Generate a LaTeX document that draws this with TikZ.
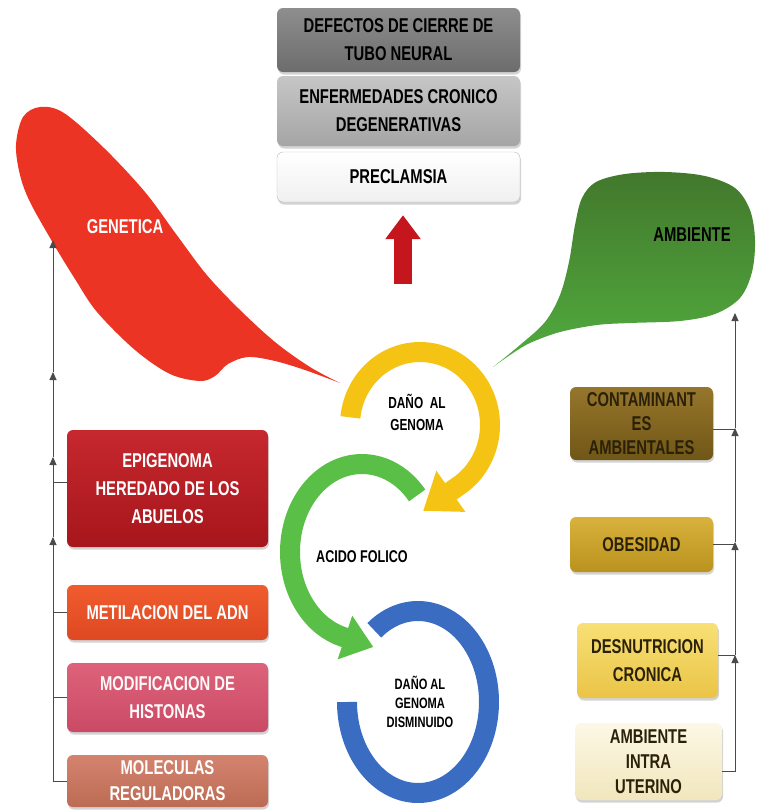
\documentclass[tikz,border=0pt]{standalone}
\usepackage{fontspec}
\newfontfamily\narrowfont[FakeStretch=0.74]{Liberation Sans}
\usetikzlibrary{arrows.meta,shadows}
\definecolor{genred}{HTML}{EC3424}
\definecolor{ambgreen}{HTML}{4E8D34}
\definecolor{ringyellow}{HTML}{F5C314}
\definecolor{ringgreen}{HTML}{5ABF46}
\definecolor{ringblue}{HTML}{3A6DC2}
\definecolor{arrowred}{HTML}{C5161D}
\definecolor{linkgray}{HTML}{4A4A4A}
\definecolor{ambtext}{HTML}{2A2108}
\tikzset{
  boxfont/.style={font=\narrowfont\bfseries\fontsize{20}{28}\selectfont},
  boxnode/.style={boxfont, rounded corners=6pt, inner sep=0pt, align=center, drop shadow={opacity=0.35, shadow xshift=1pt, shadow yshift=-2.5pt}},
  graynode/.style={boxnode, minimum width=243pt, text=black},
  gennode/.style={boxnode, minimum width=201pt, text=white},
  ambnode/.style={boxnode, text=ambtext},
  ringtext/.style={align=center, inner sep=1pt, font=\narrowfont\bfseries\fontsize{16}{22}\selectfont},
  blobtext/.style={inner sep=1pt, boxfont},
  ring/.style={line width=20pt},
  link/.style={linkgray, line width=1pt, -{Triangle[length=8pt,width=7pt]}},
  stub/.style={linkgray, line width=1pt},
  bigarrow/.style={arrowred, line width=18pt, -{Triangle[length=24pt,width=34pt]}}
}

\begin{document}
\begin{tikzpicture}[x=1pt,y=-1pt]
  \useasboundingbox (0,0) rectangle (756,812);

  % globos
  \fill[genred] plot[smooth, tension=0.55] coordinates {(340,383) (310,367) (275,342) (238,308) (206,274) (176,234) (145,192) (104,148) (64,113) (40,107) (23,117) (16,145) (20,175) (30,202) (53,243) (75,279) (97,312) (135,350) (170,374) (200,381) (215,376) (228,364) (248,357) (275,361) (305,370) (340,383)};
  \shade[top color=ambgreen!85!black, bottom color=ambgreen!80!green!90!white] plot[smooth, tension=0.55] coordinates {(493,367) (520,345) (545,322) (560,295) (569,262) (575,225) (582,198) (596,182) (625,174) (665,172) (705,176) (735,188) (750,210) (755,240) (752,272) (740,298) (715,314) (680,321) (630,323) (597,325) (560,332) (530,343) (510,355) (493,367)};
  \node[blobtext, text=white] (genetica) at (125,227) {GENETICA};
  \node[blobtext, text=black] (ambiente) at (692,235) {AMBIENTE};

  % consecuencias
  \node[graynode, minimum height=64pt, top color={rgb,255:red,142;green,142;blue,142}, bottom color={rgb,255:red,108;green,108;blue,108}] (defectos) at (398.5,40) {DEFECTOS DE CIERRE DE\\TUBO NEURAL};
  \node[graynode, minimum height=70pt, top color={rgb,255:red,198;green,198;blue,198}, bottom color={rgb,255:red,165;green,165;blue,165}] (enfermedades) at (398.5,111) {ENFERMEDADES CRONICO\\DEGENERATIVAS};
  \node[graynode, minimum height=50pt, draw=gray!55, top color=white, bottom color=gray!12] (preclamsia) at (398.5,177) {PRECLAMSIA};
  \coordinate (flecha) at (403,284);
  \draw[bigarrow, shorten >=13pt] (flecha) -- (flecha |- preclamsia.south);

  % ciclo central
  \coordinate (cb) at (418,702);
  \draw[ring, ringblue] (cb) ++(-128:71 and 91) arc[start angle=-128, end angle=180, x radius=71, y radius=91];
  \coordinate (cy) at (420,425);
  \draw[ring, ringyellow, -{Triangle[length=34pt,width=48pt]}] (cy) ++(186:70 and 73) arc[start angle=186, end angle=418, x radius=70, y radius=73] -- ++(-34,24);
  \coordinate (cg) at (362,552);
  \draw[ring, ringgreen, -{Triangle[length=30pt,width=44pt]}] (cg) ++(320:72 and 88) arc[start angle=320, end angle=105, x radius=72, y radius=88] -- ++(30,10);
  \node[ringtext] (dano) at (417,412) {DAÑO\ \ AL\\GENOMA};
  \node[ringtext, font=\narrowfont\bfseries\fontsize{17}{22}\selectfont] (acido) at (362,557) {ACIDO FOLICO};
  \node[ringtext, font=\narrowfont\bfseries\fontsize{15}{19}\selectfont] (danodis) at (420,702) {DAÑO AL\\GENOMA\\DISMINUIDO};

  % genetica
  \node[gennode, minimum height=117pt, top color={rgb,255:red,198;green,40;blue,46}, bottom color={rgb,255:red,166;green,22;blue,28}] (epigenoma) at (167.5,488.5) {EPIGENOMA\\HEREDADO DE LOS\\ABUELOS};
  \node[gennode, minimum height=55pt, top color={rgb,255:red,240;green,92;blue,46}, bottom color={rgb,255:red,222;green,72;blue,34}] (metilacion) at (167.5,612.5) {METILACION DEL ADN};
  \node[gennode, minimum height=69pt, top color={rgb,255:red,222;green,98;blue,122}, bottom color={rgb,255:red,202;green,74;blue,102}, text=white!92!pink] (histonas) at (167.5,697.5) {MODIFICACION DE\\HISTONAS};
  \node[gennode, minimum height=52pt, top color={rgb,255:red,212;green,132;blue,110}, bottom color={rgb,255:red,188;green,106;blue,84}, font=\narrowfont\bfseries\fontsize{20}{26}\selectfont] (moleculas) at (167.5,781) {MOLECULAS\\REGULADORAS};
  \coordinate (ga1) at (53,537);
  \coordinate (ga2) at (53,457);
  \coordinate (ga3) at (53,372);
  \coordinate (ga4) at (53,240);
  \draw[link] (moleculas.west) -| (ga1);
  \draw[link] (ga1) -- (ga2);
  \draw[link] (ga2) -- (ga3);
  \draw[link] (ga3) -- (ga4);
  \draw[stub] (histonas.west) -- (histonas.west -| ga1);
  \draw[stub] (metilacion.west) -- (metilacion.west -| ga1);
  \draw[stub] ([yshift=6pt]epigenoma.west) -- ([yshift=6pt]epigenoma.west -| ga1);

  % ambiente
  \node[ambnode, minimum width=143pt, minimum height=73pt, top color={rgb,255:red,150;green,118;blue,44}, bottom color={rgb,255:red,112;green,86;blue,22}, font=\narrowfont\bfseries\fontsize{20}{24}\selectfont] (contaminantes) at (641.5,423.5) {CONTAMINANT\\ES\\AMBIENTALES};
  \node[ambnode, minimum width=143pt, minimum height=55pt, top color={rgb,255:red,216;green,178;blue,60}, bottom color={rgb,255:red,186;green,146;blue,30}] (obesidad) at (641.5,544.5) {OBESIDAD};
  \node[ambnode, minimum width=141pt, minimum height=75pt, top color={rgb,255:red,248;green,224;blue,118}, bottom color={rgb,255:red,234;green,196;blue,70}] (desnutricion) at (647.5,660.5) {DESNUTRICION\\CRONICA};
  \node[ambnode, minimum width=147pt, minimum height=77pt, top color={rgb,255:red,252;green,248;blue,230}, bottom color={rgb,255:red,241;green,230;blue,188}, font=\narrowfont\bfseries\fontsize{20}{25}\selectfont] (intra) at (648.5,761.5) {AMBIENTE\\INTRA\\UTERINO};
  \coordinate (aa1) at (735,655);
  \coordinate (aa2) at (735,542);
  \coordinate (aa3) at (735,428);
  \coordinate (aa4) at (735,313);
  \draw[link] ([yshift=-10pt]intra.east) -| (aa1);
  \draw[link] (aa1) -- (aa2);
  \draw[link] (aa2) -- (aa3);
  \draw[link] (aa3) -- (aa4);
  \draw[stub] ([yshift=5pt]desnutricion.east) -- ([yshift=5pt]desnutricion.east -| aa1);
  \draw[stub] (obesidad.east) -- (obesidad.east -| aa1);
  \draw[stub] ([yshift=-6pt]contaminantes.east) -- ([yshift=-6pt]contaminantes.east -| aa1);
\end{tikzpicture}
\end{document}
